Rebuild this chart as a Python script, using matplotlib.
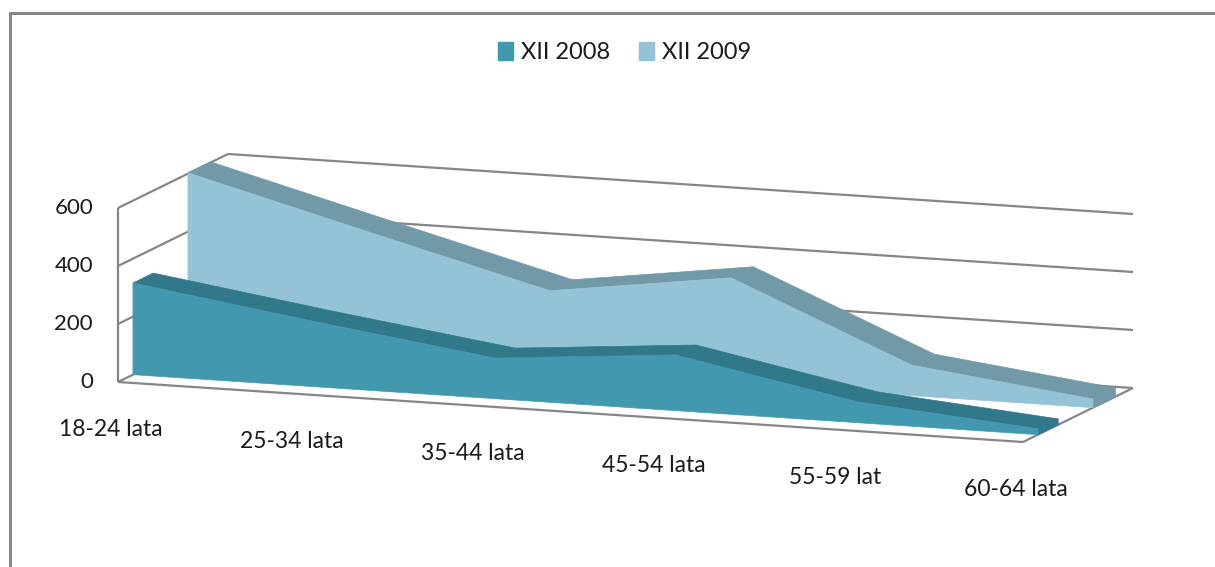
import numpy as np
import matplotlib.pyplot as plt
from matplotlib.patches import Polygon, Patch

categories = ['18-24 lata', '25-34 lata', '35-44 lata', '45-54 lata', '55-59 lat', '60-64 lata']
series_names = ['XII 2008', 'XII 2009']
vals_2008 = [316, 225, 140, 192, 72, 20]
vals_2009 = [603, 440, 279, 365, 105, 30]
y_ticks = [0, 200, 400, 600]

front_colors = ['#4198AF', '#93C3D5']
top_colors = ['#31788A', '#7199A8']
grid_color = '#868686'

# excel-like oblique 3d view, worked out in pixel space (y down)
ORIGIN = (118.0, 382.0)
STEP_X = (181.0, 12.0)      # one category step
STEP_D = (110.0, -54.0)     # full depth of the plot box
PX_PER_UNIT = 174.0 / 600   # vertical scale
depths = [(0.136, 0.32), (0.636, 0.84)]   # depth slot of each series


def proj(i, v, d):
    i = np.atleast_1d(np.asarray(i, float))
    v = np.atleast_1d(np.asarray(v, float))
    x = ORIGIN[0] + i * STEP_X[0] + d * STEP_D[0]
    y = ORIGIN[1] + i * STEP_X[1] - v * PX_PER_UNIT + d * STEP_D[1]
    return np.column_stack([x, y])


def line3d(ax, p, q, **kw):
    pts = np.vstack([p, q])
    ax.plot(pts[:, 0], pts[:, 1], color=grid_color, lw=1.6, solid_capstyle='butt', **kw)


def draw_series(ax, vals, d0, d1, front, top, z):
    n = len(vals)
    idx = np.arange(n)
    f = proj(idx, vals, d0)
    b = proj(idx, vals, d1)
    for k in range(n - 1):
        poly = np.vstack([f[k], f[k + 1], b[k + 1], b[k]])
        ax.add_patch(Polygon(poly, closed=True, fc=top, ec=top, lw=0.5, zorder=z))
    cap = np.vstack([proj(n - 1, 0, d0), f[-1], b[-1], proj(n - 1, 0, d1)])
    ax.add_patch(Polygon(cap, closed=True, fc=top, ec=top, lw=0.5, zorder=z))
    face = np.vstack([f, proj(n - 1, 0, d0), proj(0, 0, d0)])
    ax.add_patch(Polygon(face, closed=True, fc=front, ec=front, lw=0.5, zorder=z + 0.5))


fig = plt.figure(figsize=(12.15, 5.67), dpi=100)
ax = fig.add_axes([0, 0, 1, 1])
ax.set_xlim(0, 1215)
ax.set_ylim(567, 0)
ax.axis('off')

font = ['Lato', 'DejaVu Sans']
txt_color = '#1a1a1a'
last = len(categories) - 1

# walls and floor
for v in y_ticks:
    line3d(ax, proj(0, v, 0), proj(0, v, 1), zorder=1)
    line3d(ax, proj(0, v, 1), proj(last, v, 1), zorder=1)
line3d(ax, proj(0, 0, 0), proj(0, y_ticks[-1], 0), zorder=1)
line3d(ax, proj(0, 0, 0), proj(last, 0, 0), zorder=1)
line3d(ax, proj(last, 0, 0), proj(last, 0, 1), zorder=1)

# back series first
draw_series(ax, vals_2009, *depths[1], front_colors[1], top_colors[1], 2)
draw_series(ax, vals_2008, *depths[0], front_colors[0], top_colors[0], 3)

for v in y_ticks:
    x, y = proj(0, v, 0)[0]
    ax.text(x - 25, y, str(v), ha='right', va='center', fontsize=16,
            family=font, color=txt_color)

for i, lab in enumerate(categories):
    x, y = proj(i, 0, 0)[0]
    ax.text(x - 7, y + 48, lab, ha='center', va='center', fontsize=16.5,
            family=font, color=txt_color)

# chart frame
ax.plot([10, 10, 1215], [567, 13, 13], color=grid_color, lw=2.2)

handles = [Patch(fc=c, ec=c) for c in front_colors]
fig.legend(handles, series_names, loc='center', bbox_to_anchor=(0.514, 0.908),
           ncol=2, frameon=False, handlelength=0.65, handleheight=0.8,
           handletextpad=0.35, columnspacing=1.2, labelcolor=txt_color,
           prop={'family': font, 'size': 17})

fig.savefig('out.png', dpi=100)
